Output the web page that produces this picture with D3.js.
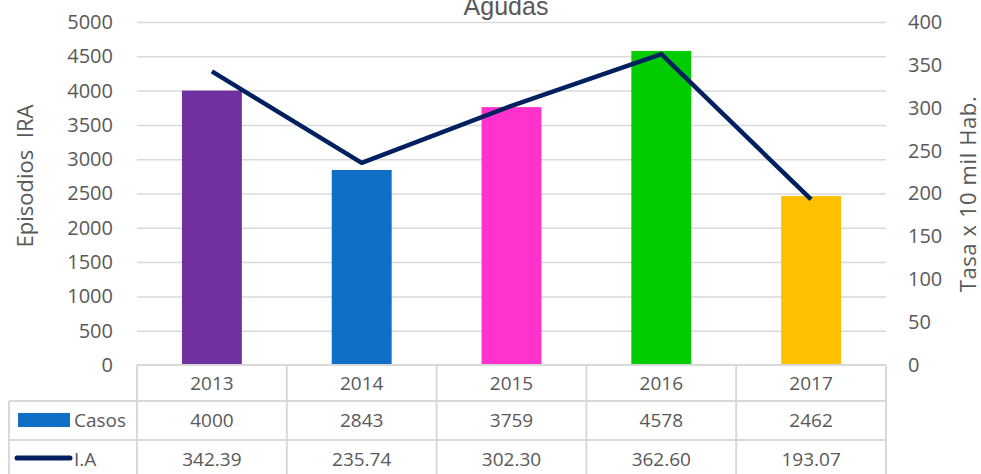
<html>
  <head>
    <script src="https://d3js.org/d3.v7.min.js"></script>
    <style>
      body { margin: 0; background: #fff; }
      .tick text { font-family: "Open Sans", sans-serif; font-size: 20px; fill: #595959; }
      .grid line { stroke: #d9d9d9; stroke-width: 1.5; }
      .grid .domain { stroke: none; }
      .tbl text { font-family: "Open Sans", sans-serif; font-size: 19px; fill: #595959; }
    </style>
  </head>
  <body>
    <svg id="chart" width="981" height="474"></svg>
    <script>
      // data
      const years = ["2013", "2014", "2015", "2016", "2017"];
      const casos = [4000, 2843, 3759, 4578, 2462];
      const tasa = [342.39, 235.74, 302.30, 362.60, 193.07];
      const tasaLabels = ["342.39", "235.74", "302.30", "362.60", "193.07"];
      const barColors = ["#7030A0", "#0F6FC6", "#FF33CC", "#00CC00", "#FFC000"];
      const leftTicks = [0, 500, 1000, 1500, 2000, 2500, 3000, 3500, 4000, 4500, 5000];
      const rightTicks = [0, 50, 100, 150, 200, 250, 300, 350, 400];

      const svg = d3.select("svg#chart");
      const margin = {left: 137, right: 95, top: 22};
      const plotRight = 886;
      const plotBottom = 365;

      const x = d3.scaleBand().domain(years).range([margin.left, plotRight]);
      const yL = d3.scaleLinear().domain([0, 5000]).range([plotBottom, margin.top]);
      const yR = d3.scaleLinear().domain([0, 400]).range([plotBottom, margin.top]);

      // gridlines
      svg.append("g")
        .attr("class", "grid")
        .attr("transform", `translate(${margin.left},0)`)
        .call(d3.axisLeft(yL).tickValues(leftTicks.slice(1)).tickSize(-(plotRight - margin.left)).tickFormat(""));

      // left axis
      const la = svg.append("g")
        .attr("transform", `translate(${margin.left - 10},0)`)
        .call(d3.axisLeft(yL).tickValues(leftTicks).tickSize(0).tickPadding(14).tickFormat(d3.format("d")));
      la.select(".domain").remove();

      // right axis
      const ra = svg.append("g")
        .attr("transform", `translate(${plotRight + 8},0)`)
        .call(d3.axisRight(yR).tickValues(rightTicks).tickSize(0).tickPadding(14));
      ra.select(".domain").remove();

      // titles (top of the chart title is clipped, as in the original)
      svg.append("text")
        .attr("x", 506).attr("y", 15)
        .attr("text-anchor", "middle")
        .style("font-family", "Liberation Sans, Arial, sans-serif")
        .style("font-size", "25px").style("fill", "#595959")
        .text("Agudas");

      svg.append("text")
        .attr("transform", "translate(33,176) rotate(-90)")
        .attr("text-anchor", "middle")
        .style("font-family", "Open Sans, sans-serif")
        .style("font-size", "22px").style("fill", "#595959")
        .text("Episodios\u00a0\u00a0IRA");

      svg.append("text")
        .attr("transform", "translate(976,194) rotate(-90)")
        .attr("text-anchor", "middle")
        .style("font-family", "Open Sans, sans-serif")
        .style("font-size", "22px").style("fill", "#595959")
        .style("letter-spacing", "0.6px")
        .text("Tasa x 10 mil Hab.");

      // bars
      const bw = x.bandwidth() * 0.4;
      svg.selectAll("rect.bar")
        .data(years)
        .join("rect")
        .attr("class", "bar")
        .attr("x", d => x(d) + (x.bandwidth() - bw) / 2)
        .attr("y", (d, i) => yL(casos[i]))
        .attr("width", bw)
        .attr("height", (d, i) => plotBottom - yL(casos[i]))
        .attr("fill", (d, i) => barColors[i]);

      // line
      const line = d3.line()
        .x((d, i) => x(years[i]) + x.bandwidth() / 2)
        .y(d => yR(d));
      svg.append("path")
        .datum(tasa)
        .attr("d", line)
        .attr("fill", "none")
        .attr("stroke", "#002060")
        .attr("stroke-width", 4.5)
        .attr("stroke-linejoin", "round");

      // data table
      const rowY = [plotBottom, 401, 440, 480];
      const tbl = svg.append("g").attr("class", "tbl");
      const gridColor = "#d9d9d9";
      // horizontal lines
      tbl.append("line").attr("x1", margin.left).attr("x2", plotRight).attr("y1", rowY[0]).attr("y2", rowY[0])
        .attr("stroke", gridColor).attr("stroke-width", 2);
      [rowY[1], rowY[2]].forEach(yy => {
        tbl.append("line").attr("x1", 9).attr("x2", plotRight).attr("y1", yy).attr("y2", yy)
          .attr("stroke", gridColor).attr("stroke-width", 2);
      });
      // vertical lines
      const vx = years.map(d => x(d)).concat([plotRight]);
      vx.forEach(xx => {
        tbl.append("line").attr("x1", xx).attr("x2", xx).attr("y1", rowY[0]).attr("y2", rowY[3])
          .attr("stroke", gridColor).attr("stroke-width", 2);
      });
      tbl.append("line").attr("x1", 9).attr("x2", 9).attr("y1", rowY[1]).attr("y2", rowY[3])
        .attr("stroke", gridColor).attr("stroke-width", 2);

      const rows = [years, casos.map(String), tasaLabels];
      rows.forEach((vals, r) => {
        tbl.selectAll(`text.r${r}`)
          .data(vals)
          .join("text")
          .attr("class", `r${r}`)
          .attr("x", (d, i) => x(years[i]) + x.bandwidth() / 2)
          .attr("y", (rowY[r] + Math.min(rowY[r + 1], 474)) / 2 + (r === 2 ? 2 : 0))
          .attr("dy", "0.35em")
          .attr("text-anchor", "middle")
          .text(d => d);
      });

      // legend keys
      tbl.append("rect").attr("x", 18).attr("y", 413).attr("width", 52).attr("height", 14).attr("fill", "#0F6FC6");
      tbl.append("text").attr("x", 74).attr("y", 420).attr("dy", "0.35em").text("Casos");
      tbl.append("line").attr("x1", 17).attr("x2", 70).attr("y1", 458).attr("y2", 458)
        .attr("stroke", "#002060").attr("stroke-width", 5).attr("stroke-linecap", "round");
      tbl.append("text").attr("x", 74).attr("y", 459).attr("dy", "0.35em").text("I.A");
    </script>
  </body>
</html>
